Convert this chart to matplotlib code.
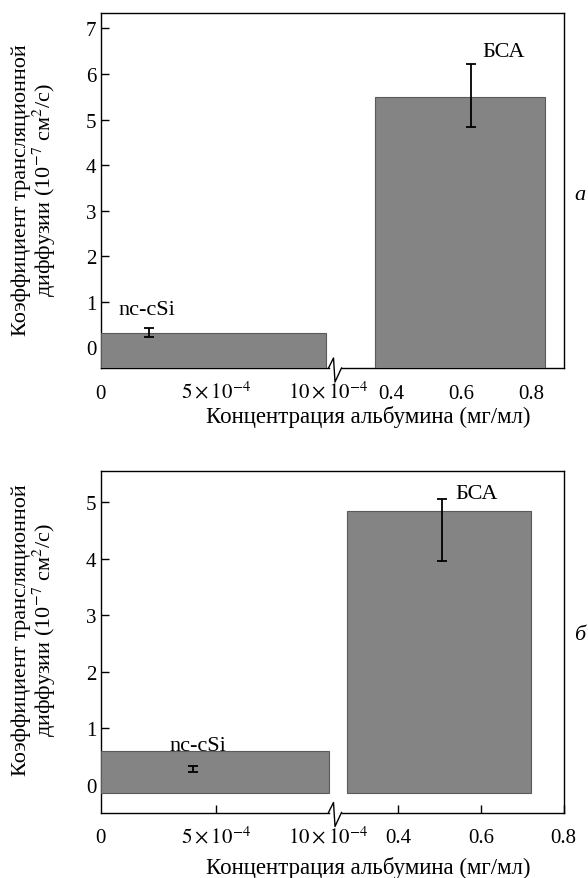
import numpy as np
import matplotlib.pyplot as plt

plt.rcParams["font.family"] = ["Liberation Serif", "DejaVu Serif"]
plt.rcParams["mathtext.fontset"] = "stix"

# --- data ---
# panel a
a_names = ["nc-cSi", "БСА"]
a_bar_left = [0.0, 0.355]
a_bar_right = [0.98e-3, 0.839]
a_bar_top = [0.32, 5.49]
a_err_x = [2.1e-4, 0.63]
a_err_lo = [0.23, 4.83]
a_err_hi = [0.42, 6.21]
a_text_xy = [(0.08e-3, 0.82), (0.66, 6.5)]

# panel b
b_names = ["nc-cSi", "БСА"]
b_bar_left = [0.0, 0.275]
b_bar_right = [0.99e-3, 0.721]
b_bar_top = [0.59, 4.84]
b_err_x = [4.0e-4, 0.506]
b_err_lo = [0.22, 3.97]
b_err_hi = [0.34, 5.06]
b_text_xy = [(0.3e-3, 0.70), (0.538, 5.15)]

xtick_vals = [0, 5e-4, 1e-3, 0.4, 0.6, 0.8]
xtick_text = ["0", r"$5\times10^{-4}$", r"$10\times10^{-4}$", "0.4", "0.6", "0.8"]

xlabel = "Концентрация альбумина (мг/мл)"
ylabel = "Коэффициент трансляционной\nдиффузии (10$^{-7}$ см$^2$/с)"

W, H = 588, 879
WL, GAP, WR = 228.0, 13.0, 222.0  # pixel widths of the two segments and the break


def broken_scale(b1, b2, xmax):
    def fwd(x):
        x = np.asarray(x, float)
        return np.where(x <= b1, x / b1 * WL,
                        np.where(x >= b2, WL + GAP + (x - b2) / (xmax - b2) * WR,
                                 WL + (x - b1) / (b2 - b1) * GAP))

    def inv(u):
        u = np.asarray(u, float)
        return np.where(u <= WL, u / WL * b1,
                        np.where(u >= WL + GAP, b2 + (u - WL - GAP) / WR * (xmax - b2),
                                 b1 + (u - WL) / GAP * (b2 - b1)))
    return fwd, inv


def panel(ax, b1, b2, xmax, ylim, bar_bottom, left, right, top,
          err_x, lo, hi, names, text_xy, ax_h_px):
    ax.set_xscale("function", functions=broken_scale(b1, b2, xmax))
    ax.set_xlim(0, xmax)
    ax.set_ylim(*ylim)

    left = np.array(left)
    right = np.array(right)
    top = np.array(top)
    ax.bar(left, top - bar_bottom, width=right - left, bottom=bar_bottom,
           align="edge", color="#848484", edgecolor="#5a5a5a", linewidth=0.8,
           zorder=3)

    lo = np.array(lo)
    hi = np.array(hi)
    mid = (lo + hi) / 2
    ax.errorbar(err_x, mid, yerr=[mid - lo, hi - mid], fmt="none",
                ecolor="black", elinewidth=1.3, capsize=3.6, capthick=1.3,
                zorder=4)

    for name, (tx, ty) in zip(names, text_xy):
        ax.text(tx, ty, name, fontsize=16, va="center", ha="left", zorder=2)

    # frame: bottom spine is drawn by hand to show the break
    ax.spines["bottom"].set_visible(False)
    for s in ["left", "right", "top"]:
        ax.spines[s].set_linewidth(1.0)
    xt = ax.get_xaxis_transform()
    ax.plot([0, b1], [0, 0], transform=xt, color="black", lw=1.0, clip_on=False)
    ax.plot([b2, xmax], [0, 0], transform=xt, color="black", lw=1.0, clip_on=False)
    aw = WL + GAP + WR
    zx = np.array([WL, WL + 5, WL + 6.5, WL + GAP]) / aw
    zy = np.array([0, 10, -14, 0]) / ax_h_px
    ax.plot(zx, zy, transform=ax.transAxes, color="black", lw=1.0, clip_on=False)

    ax.set_xticks(xtick_vals)
    ax.set_xticklabels(xtick_text)
    ax.tick_params(axis="both", direction="in", length=6, width=1.0,
                   labelsize=15, top=False, right=False)
    ax.tick_params(axis="x", pad=21.5)
    ax.tick_params(axis="y", pad=3)
    for lab in ax.get_xticklabels():
        lab.set_verticalalignment("baseline")
    ax.xaxis.get_major_ticks()[2].tick1line.set_visible(False)
    ax.xaxis.get_major_ticks()[0].tick1line.set_visible(False)


fig = plt.figure(figsize=(W / 100, H / 100), dpi=100)

ax1 = fig.add_axes([100.5 / W, 1 - 369 / H, (WL + GAP + WR) / W, 355 / H])
panel(ax1, 0.99e-3, 0.259, 0.893, (-0.46, 7.34), -0.46,
      a_bar_left, a_bar_right, a_bar_top, a_err_x, a_err_lo, a_err_hi,
      a_names, a_text_xy, 355)
ax1.set_yticks(range(0, 8))

ax2 = fig.add_axes([100.5 / W, 1 - 813.5 / H, (WL + GAP + WR) / W, 341.8 / H])
panel(ax2, 0.99e-3, 0.262, 0.8, (-0.49, 5.56), -0.15,
      b_bar_left, b_bar_right, b_bar_top, b_err_x, b_err_lo, b_err_hi,
      b_names, b_text_xy, 341.8)
ax2.set_yticks(range(0, 6))

# axis titles and panel letters
for yc, xl in [(190, 417), (630, 868)]:
    fig.text(35 / W, 1 - yc / H, ylabel, rotation=90, ha="center", va="center",
             fontsize=16, linespacing=1.0)
    fig.text(368 / W, 1 - xl / H, xlabel, ha="center", va="center", fontsize=16.5)

fig.text(580 / W, 1 - 195 / H, "a", fontsize=16, style="italic",
         ha="center", va="center")
fig.text(580 / W, 1 - 635 / H, "б", fontsize=16, style="italic",
         ha="center", va="center")

fig.savefig("out.png", dpi=100)
